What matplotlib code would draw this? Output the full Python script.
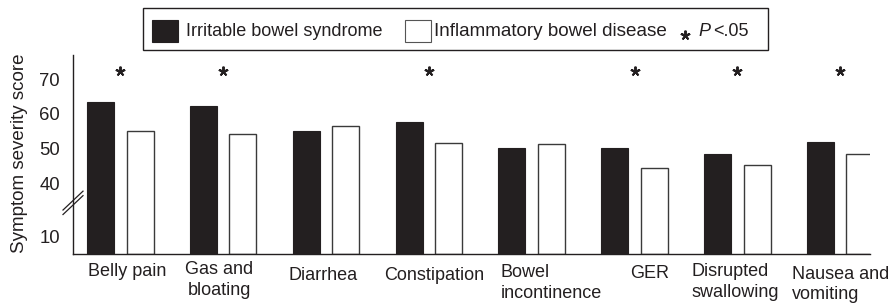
import numpy as np
import matplotlib
matplotlib.use("Agg")
import matplotlib.pyplot as plt
from matplotlib.patches import Rectangle
from matplotlib.transforms import blended_transform_factory

# Data
categories = ["Belly pain", "Gas and\nbloating", "Diarrhea", "Constipation",
              "Bowel\nincontinence", "GER", "Disrupted\nswallowing",
              "Nausea and\nvomiting"]
ibs = [63.5, 62.4, 54.9, 57.6, 50.1, 50.1, 48.4, 51.8]
ibd = [54.9, 54.1, 56.4, 51.7, 51.3, 44.4, 45.1, 48.3]
significant = [True, True, False, True, False, True, True, True]
ytick_vals = [10, 40, 50, 60, 70]

# label layout (offset from group centre, vertical pixel centre, alignment)
LABEL_DX = [0.066, -0.036, -0.03, 0.047, -0.299, 0.15, -0.444, -0.47]
LABEL_Y = [272, 280, 275, 275, 283, 273, 282, 284.5]
LABEL_HA = ["center", "center", "center", "center", "left", "center", "left", "left"]

INK = "#231f20"
W, H = 893, 306

plt.rcParams.update({
    "font.family": "Liberation Sans",
    "font.size": 13,
    "text.color": INK,
})

# broken axis: compress 0-40 range
VB = [-100, 0, 10, 40, 300]
HB = [-170, 0, 17, 70.9, 70.9 + 260 * 3.459]


def fwd(v):
    return np.interp(v, VB, HB)


def inv(h):
    return np.interp(h, HB, VB)


fig = plt.figure(figsize=(W / 100, H / 100), dpi=100)
ax = fig.add_axes([73 / W, 1 - 254 / H, (870 - 73) / W, (254 - 55) / H])
ax.set_yscale("function", functions=(fwd, inv))

x = np.arange(len(categories))
bw = 0.263
off = 0.192
ax.bar(x - off, ibs, bw, color=INK, edgecolor=INK, lw=0.8)
ax.bar(x + off, ibd, bw, color="white", edgecolor="#3a3a3a", lw=1.0)

for i, s in enumerate(significant):
    if s:
        ax.plot(i, 72.3, marker=(5, 2, 0), ms=7, mew=1.4, color=INK,
                clip_on=False)

ax.set_xlim(-0.461, 7.29)
ax.set_ylim(0, 77)
ax.set_yticks(ytick_vals)
ax.set_yticklabels([str(v) for v in ytick_vals], fontsize=13.3)
ax.tick_params(axis="y", length=0, pad=9.5, colors=INK)
ax.set_xticks([])
for sp in ["top", "right"]:
    ax.spines[sp].set_visible(False)
for sp in ["left", "bottom"]:
    ax.spines[sp].set_color(INK)
    ax.spines[sp].set_linewidth(1.0)

# axis break marks
bt = blended_transform_factory(ax.transAxes, ax.transData)
dx = 10 / (870 - 73)
for v0, v1 in [(22.5, 33.0), (25.0, 35.5)]:
    ax.plot([-dx, dx], [v0, v1], color=INK, lw=0.9, transform=bt,
            clip_on=False)

# category labels
tl = blended_transform_factory(ax.transData, fig.transFigure)
for i, lab in enumerate(categories):
    ax.text(i + LABEL_DX[i], 1 - LABEL_Y[i] / H, lab, transform=tl,
            ha=LABEL_HA[i], va="center", fontsize=13, linespacing=1.25)

fig.text(19.5 / W, 1 - 153 / H, "Symptom severity score", rotation=90,
         ha="center", va="center", fontsize=13.5)

# legend
fig.patches.append(Rectangle((143.3 / W, 1 - 50 / H), (768.3 - 143.3) / W,
                             41.7 / H, transform=fig.transFigure,
                             facecolor="white", edgecolor=INK, lw=1.0))
fig.patches.append(Rectangle((152.3 / W, 1 - 41.7 / H), 26 / W, 21.7 / H,
                             transform=fig.transFigure, facecolor=INK,
                             edgecolor=INK, lw=0.8))
fig.patches.append(Rectangle((405 / W, 1 - 41.7 / H), 25.7 / W, 21.7 / H,
                             transform=fig.transFigure, facecolor="white",
                             edgecolor="#555555", lw=0.8))
ly = 1 - 31.5 / H
fig.text(186 / W, ly, "Irritable bowel syndrome", va="center", fontsize=13)
fig.text(434 / W, ly, "Inflammatory bowel disease", va="center", fontsize=13.6)
fig.lines.append(plt.Line2D([685 / W], [1 - 35 / H], marker=(5, 2, 0), ms=7,
                            mew=1.4, color=INK, transform=fig.transFigure))
fig.text(698 / W, ly, "P", va="center", fontsize=13, style="italic")
fig.text(713 / W, ly, "<.05", va="center", fontsize=13)

fig.savefig("out.png", dpi=100)
